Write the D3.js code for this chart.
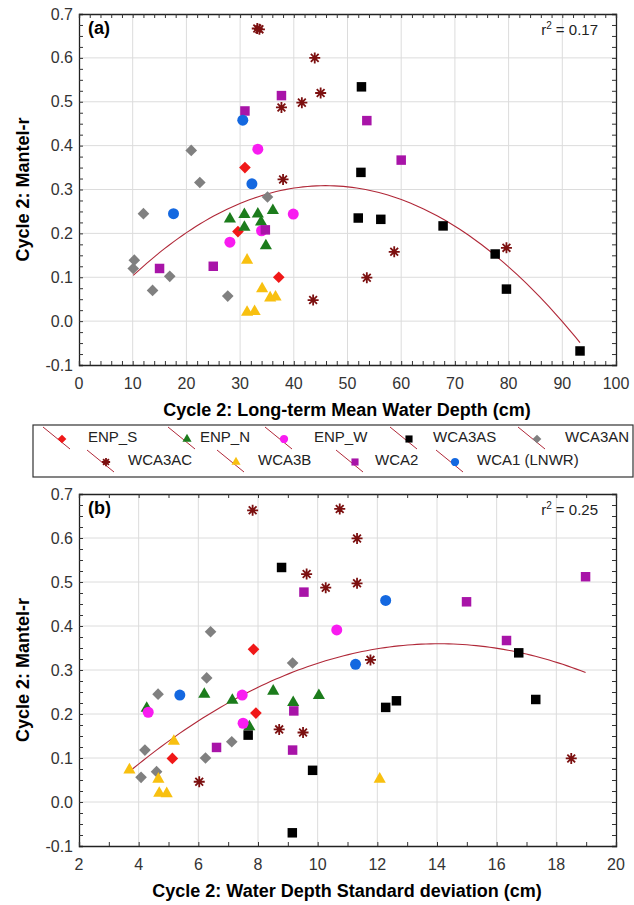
<!DOCTYPE html>
<html>
<head>
<meta charset="utf-8">
<script src="https://cdn.jsdelivr.net/npm/d3@7"></script>
<style>
  body { margin: 0; background: #fff; }
  svg { display: block; font-family: "Liberation Sans", Arial, sans-serif; }
</style>
</head>
<body>
<div id="chart"></div>
<script>
// Series names (legend order).
const seriesNames = ['ENP_S', 'ENP_N', 'ENP_W', 'WCA3AS', 'WCA3AN', 'WCA3AC', 'WCA3B', 'WCA2', 'WCA1 (LNWR)'];

// Panel (a): long-term mean water depth (cm) vs Mantel-r.
const enpS_a = [[30.9, 0.35], [29.6, 0.204], [37.2, 0.10]];
const enpN_a = [[28.1, 0.233], [30.8, 0.243], [33.3, 0.244], [36.1, 0.252], [30.8, 0.214], [33.9, 0.226], [34.8, 0.172]];
const enpW_a = [[33.3, 0.392], [39.9, 0.244], [28.1, 0.18], [34.0, 0.206]];
const wca3as_a = [[52.6, 0.534], [52.5, 0.339], [52.0, 0.235], [56.2, 0.232], [67.8, 0.217], [77.5, 0.153], [79.6, 0.073], [93.3, -0.068]];
const wca3an_a = [[12.0, 0.245], [20.9, 0.389], [22.5, 0.316], [35.1, 0.283], [10.3, 0.139], [10.1, 0.12], [13.7, 0.07], [16.9, 0.102], [27.7, 0.057]];
const wca3ac_a = [[33.2, 0.667], [33.6, 0.665], [43.9, 0.60], [45.0, 0.52], [41.5, 0.498], [37.7, 0.487], [38.0, 0.323], [79.6, 0.167], [58.7, 0.158], [53.6, 0.099], [43.6, 0.048]];
const wca3b_a = [[31.3, 0.139], [34.1, 0.074], [35.6, 0.053], [36.6, 0.055], [31.3, 0.02], [32.7, 0.022]];
const wca2_a = [[30.9, 0.479], [37.7, 0.514], [53.6, 0.457], [60.0, 0.367], [34.7, 0.208], [15.0, 0.12], [25.0, 0.125]];
const wca1_a = [[30.5, 0.458], [32.2, 0.313], [17.6, 0.245]];

// Panel (b): water depth standard deviation (cm) vs Mantel-r.
const enpS_b = [[7.85, 0.347], [7.93, 0.202], [5.13, 0.099]];
const enpN_b = [[4.27, 0.213], [6.2, 0.245], [7.14, 0.231], [8.51, 0.252], [9.18, 0.226], [10.04, 0.242], [7.71, 0.171]];
const enpW_b = [[10.64, 0.391], [7.47, 0.243], [7.5, 0.179], [4.32, 0.204]];
const wca3as_b = [[8.79, 0.533], [16.74, 0.339], [17.31, 0.233], [12.64, 0.23], [12.28, 0.215], [7.67, 0.152], [9.83, 0.072], [9.15, -0.07]];
const wca3an_b = [[4.65, 0.245], [6.41, 0.387], [9.16, 0.316], [6.28, 0.282], [4.21, 0.118], [4.08, 0.056], [4.6, 0.069], [6.24, 0.1], [7.12, 0.137]];
const wca3ac_b = [[7.82, 0.663], [10.74, 0.666], [11.32, 0.599], [9.63, 0.518], [11.32, 0.497], [10.27, 0.487], [11.77, 0.323], [8.71, 0.165], [9.51, 0.158], [18.5, 0.099], [6.03, 0.046]];
const wca3b_b = [[3.69, 0.073], [5.18, 0.138], [4.66, 0.052], [4.69, 0.02], [4.94, 0.019], [12.08, 0.052]];
const wca2_b = [[9.54, 0.477], [18.98, 0.512], [14.99, 0.455], [16.33, 0.367], [9.2, 0.207], [9.16, 0.118], [6.61, 0.124]];
const wca1_b = [[12.28, 0.458], [11.27, 0.313], [5.38, 0.243]];

// Tick values and annotations.
const yTicks = [-0.1, 0.0, 0.1, 0.2, 0.3, 0.4, 0.5, 0.6, 0.7];
const xTicksA = [0, 10, 20, 30, 40, 50, 60, 70, 80, 90, 100];
const xTicksB = [2, 4, 6, 8, 10, 12, 14, 16, 18, 20];
const r2Values = ['0.17', '0.25'];

// Marker styles.
const styles = {
  'ENP_S': { shape: 'diamond', color: '#f01818' },
  'ENP_N': { shape: 'triangle', color: '#1c7c1c' },
  'ENP_W': { shape: 'circle', color: '#f81cf0' },
  'WCA3AS': { shape: 'square', color: '#000000' },
  'WCA3AN': { shape: 'diamond', color: '#808080' },
  'WCA3AC': { shape: 'star', color: '#7c1010' },
  'WCA3B': { shape: 'triangle', color: '#f8c010' },
  'WCA2': { shape: 'square', color: '#a814a8' },
  'WCA1 (LNWR)': { shape: 'circle', color: '#1468e0' }
};

const fitColor = '#b02838';
const width = 634, height = 905;

const svg = d3.select('#chart').append('svg')
  .attr('width', width)
  .attr('height', height);

function marker(g, shape, color, scale) {
  const s = scale || 1;
  if (shape === 'star') {
    const r = 5.5 * s;
    const p = d3.path();
    for (let k = 0; k < 4; k++) {
      const a = k * Math.PI / 4;
      p.moveTo(-r * Math.cos(a), -r * Math.sin(a));
      p.lineTo(r * Math.cos(a), r * Math.sin(a));
    }
    g.append('path').attr('d', p.toString())
      .attr('stroke', color).attr('stroke-width', 1.8).attr('fill', 'none');
    return;
  }
  let sym;
  if (shape === 'diamond') sym = d3.symbol(d3.symbolSquare, 68 * s * s);
  if (shape === 'square') sym = d3.symbol(d3.symbolSquare, 90 * s * s);
  if (shape === 'circle') sym = d3.symbol(d3.symbolCircle, 95 * s * s);
  if (shape === 'triangle') sym = d3.symbol(d3.symbolTriangle, 64 * s * s);
  g.append('path').attr('d', sym())
    .attr('transform', shape === 'diamond' ? 'rotate(45)' : null)
    .attr('fill', color);
}

// Least-squares quadratic fit.
function quadFit(pts) {
  let s = [0, 0, 0, 0, 0], t = [0, 0, 0];
  pts.forEach(([x, y]) => {
    for (let k = 0; k <= 4; k++) s[k] += Math.pow(x, k);
    for (let k = 0; k <= 2; k++) t[k] += y * Math.pow(x, k);
  });
  const M = [[s[0], s[1], s[2], t[0]], [s[1], s[2], s[3], t[1]], [s[2], s[3], s[4], t[2]]];
  for (let i = 0; i < 3; i++) {
    for (let j = i + 1; j < 3; j++) {
      const f = M[j][i] / M[i][i];
      for (let k = i; k < 4; k++) M[j][k] -= f * M[i][k];
    }
  }
  const c = [0, 0, 0];
  for (let i = 2; i >= 0; i--) {
    let v = M[i][3];
    for (let k = i + 1; k < 3; k++) v -= M[i][k] * c[k];
    c[i] = v / M[i][i];
  }
  return x => c[0] + c[1] * x + c[2] * x * x;
}

function panel(cfg) {
  const x = d3.scaleLinear().domain(cfg.xDomain).range([79, 616]);
  const y = d3.scaleLinear().domain([-0.1, 0.7]).range([cfg.bottom, cfg.top]);
  const g = svg.append('g');

  // Grid.
  g.selectAll('.gx').data(cfg.xTicks.slice(1, -1)).enter().append('line')
    .attr('x1', d => x(d)).attr('x2', d => x(d))
    .attr('y1', cfg.top).attr('y2', cfg.bottom)
    .attr('stroke', '#dcdcdc').attr('stroke-width', 1);
  g.selectAll('.gy').data(yTicks.slice(1, -1)).enter().append('line')
    .attr('y1', d => y(d)).attr('y2', d => y(d))
    .attr('x1', 79).attr('x2', 616)
    .attr('stroke', '#dcdcdc').attr('stroke-width', 1);

  // Axes with inward ticks.
  const minorY = d3.range(-0.1, 0.7001, 0.025);
  const minorX = d3.range(cfg.xDomain[0], cfg.xDomain[1] + 1e-6, cfg.minorX);
  g.append('g').attr('transform', `translate(79,0)`)
    .call(d3.axisRight(y).tickValues(minorY).tickSize(4).tickFormat(''));
  g.append('g').attr('transform', `translate(616,0)`)
    .call(d3.axisLeft(y).tickValues(minorY).tickSize(4).tickFormat(''));
  g.append('g').attr('transform', `translate(0,${cfg.bottom})`)
    .call(d3.axisTop(x).tickValues(minorX).tickSize(4).tickFormat(''));
  g.append('g').attr('transform', `translate(0,${cfg.top})`)
    .call(d3.axisBottom(x).tickValues(minorX).tickSize(4).tickFormat(''));
  g.selectAll('.domain').attr('stroke', '#222').attr('stroke-width', 1.3);
  g.selectAll('.tick line').attr('stroke', '#333');

  // Tick labels.
  g.selectAll('.yl').data(yTicks).enter().append('text')
    .attr('x', 73).attr('y', d => y(d)).attr('dy', '0.35em')
    .attr('text-anchor', 'end').attr('font-size', 16).attr('fill', '#333')
    .text(d => d3.format('.1f')(d).replace('−', '-'));
  g.selectAll('.xl').data(cfg.xTicks).enter().append('text')
    .attr('x', d => x(d)).attr('y', cfg.bottom + 24)
    .attr('text-anchor', 'middle').attr('font-size', 16).attr('fill', '#333')
    .text(d => d);

  // Axis titles.
  g.append('text')
    .attr('transform', `translate(29,${(cfg.top + cfg.bottom) / 2}) rotate(-90)`)
    .attr('text-anchor', 'middle').attr('font-size', 18).attr('font-weight', 'bold')
    .text('Cycle 2: Mantel-r');
  g.append('text')
    .attr('x', 347).attr('y', cfg.bottom + 51)
    .attr('text-anchor', 'middle').attr('font-size', 18).attr('font-weight', 'bold')
    .text(cfg.xTitle);

  // Panel label and r².
  g.append('text').attr('x', 88).attr('y', cfg.top + 20)
    .attr('font-size', 18).attr('font-weight', 'bold').text(cfg.label);
  const r2 = g.append('text').attr('x', 598).attr('y', cfg.top + 21)
    .attr('text-anchor', 'end').attr('font-size', 15).attr('fill', '#222');
  r2.append('tspan').text('r');
  r2.append('tspan').attr('dy', -6).attr('font-size', 10).text('2');
  r2.append('tspan').attr('dy', 6).text(' = ' + cfg.r2);

  // Quadratic fit line.
  const all = cfg.series.flat();
  const f = quadFit(all);
  const ext = d3.extent(all, d => d[0]);
  const xs = d3.range(ext[0], ext[1], (ext[1] - ext[0]) / 100).concat([ext[1]]);
  g.append('path')
    .datum(xs)
    .attr('d', d3.line().x(d => x(d)).y(d => y(f(d))))
    .attr('fill', 'none').attr('stroke', fitColor).attr('stroke-width', 1.1);

  // Points.
  cfg.series.forEach((pts, i) => {
    const st = styles[seriesNames[i]];
    pts.forEach(p => {
      const m = g.append('g').attr('transform', `translate(${x(p[0])},${y(p[1])})`);
      marker(m, st.shape, st.color);
    });
  });
}

panel({
  xDomain: [0, 100], xTicks: xTicksA, minorX: 2, top: 14, bottom: 365,
  xTitle: 'Cycle 2: Long-term Mean Water Depth (cm)', label: '(a)', r2: r2Values[0],
  series: [enpS_a, enpN_a, enpW_a, wca3as_a, wca3an_a, wca3ac_a, wca3b_a, wca2_a, wca1_a]
});
panel({
  xDomain: [2, 20], xTicks: xTicksB, minorX: 1, top: 494, bottom: 846,
  xTitle: 'Cycle 2: Water Depth Standard deviation (cm)', label: '(b)', r2: r2Values[1],
  series: [enpS_b, enpN_b, enpW_b, wca3as_b, wca3an_b, wca3ac_b, wca3b_b, wca2_b, wca1_b]
});

// Legend.
const legendPos = [
  [62, 437, 88], [187, 437, 200], [284, 437, 314], [409, 437, 433], [537, 437, 565],
  [106, 460, 128], [236, 460, 258], [355, 460, 375], [455, 460, 477]
];
const legend = svg.append('g').attr('id', 'legend');
legend.append('rect').attr('x', 33).attr('y', 425).attr('width', 600).attr('height', 52)
  .attr('fill', '#fff').attr('stroke', '#333').attr('stroke-width', 1.2);
seriesNames.forEach((name, i) => {
  const [mx, my, tx] = legendPos[i];
  legend.append('line')
    .attr('x1', mx - 19).attr('y1', my - 10).attr('x2', mx + 8).attr('y2', my + 12)
    .attr('stroke', fitColor).attr('stroke-width', 1);
  const m = legend.append('g').attr('transform', `translate(${mx},${my + 2})`);
  marker(m, styles[name].shape, styles[name].color, 0.75);
  legend.append('text').attr('x', tx).attr('y', my).attr('dy', '0.35em')
    .attr('font-size', 15).attr('fill', '#222').text(name);
});
</script>
</body>
</html>
